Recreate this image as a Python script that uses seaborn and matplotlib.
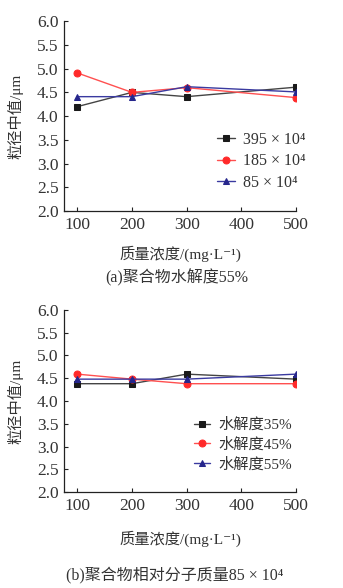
import numpy as np
import pandas as pd
import seaborn as sns
import matplotlib
matplotlib.use("Agg")
import matplotlib.pyplot as plt

sns.set_style("ticks")
plt.rcParams['font.family'] = ['Liberation Serif', 'Noto Sans CJK SC', 'DejaVu Sans']
plt.rcParams['axes.unicode_minus'] = False

# ---- data ----
conc = [100, 200, 300, 500]
labels_a = ['395 × 10⁴', '185 × 10⁴', '85 × 10⁴']
vals_a_395 = [4.20, 4.50, 4.41, 4.61]
vals_a_185 = [4.91, 4.50, 4.60, 4.39]
vals_a_85 = [4.41, 4.41, 4.62, 4.51]

labels_b = ['水解度35%', '水解度45%', '水解度55%']
vals_b_35 = [4.38, 4.38, 4.59, 4.48]
vals_b_45 = [4.59, 4.48, 4.38, 4.38]
vals_b_55 = [4.48, 4.48, 4.48, 4.59]

xticks = [100, 200, 300, 400, 500]
yticks = [2.0, 2.5, 3.0, 3.5, 4.0, 4.5, 5.0, 5.5, 6.0]

colors = ['#1a1a1a', '#ff2a2a', '#26268c']
line_colors = ['#444444', '#ff5050', '#3a3aa0']
markers = ['s', 'o', '^']


def make_df(labels, series):
    rows = []
    for lab, vals in zip(labels, series):
        for x, v in zip(conc, vals):
            rows.append({'x': x, 'y': v, 'g': lab})
    return pd.DataFrame(rows)


fig = plt.figure(figsize=(3.43, 5.88), dpi=100)
ax1 = fig.add_axes([0.187, 0.641, 0.676, 0.323])
ax2 = fig.add_axes([0.187, 0.163, 0.676, 0.310])


def draw(ax, labels, series, legend_anchor, legsize, xpad):
    df = make_df(labels, series)
    for lab, c, lc, m in zip(labels, colors, line_colors, markers):
        sub = df[df['g'] == lab]
        sns.lineplot(data=sub, x='x', y='y', ax=ax, color=lc, lw=1.0,
                     marker=m, markersize=5, markerfacecolor=c,
                     markeredgecolor=c, label=lab, legend=False)
    ax.set_xlim(76, 500)
    ax.set_ylim(2.0, 6.0)
    ax.set_xticks(xticks)
    ax.set_yticks(yticks)
    ax.set_yticklabels([f'{t:.1f}' for t in yticks])
    sns.despine(ax=ax)
    for s in ['left', 'bottom']:
        ax.spines[s].set_linewidth(0.9)
        ax.spines[s].set_color('#222222')
    ax.tick_params(direction='in', length=3, width=0.8, labelsize=12.5,
                   colors='#222222', labelcolor='#333333', pad=4)
    ax.set_xlabel('质量浓度/(mg·L⁻¹)', fontsize=11, color='#333333', labelpad=xpad)
    ax.set_ylabel('粒径中值/μm', fontsize=11, color='#333333', labelpad=10)
    h, l = ax.get_legend_handles_labels()
    ax.legend(h, l, loc='upper left', bbox_to_anchor=legend_anchor, frameon=False,
              fontsize=legsize, handlelength=1.1, handletextpad=0.5,
              labelspacing=0.35, labelcolor='#333333', borderpad=0)


draw(ax1, labels_a, [vals_a_395, vals_a_185, vals_a_85], (0.625, 0.46), 11.5, 9)
draw(ax2, labels_b, [vals_b_35, vals_b_45, vals_b_55], (0.525, 0.45), 11, 12.5)

fig.text(0.515, 1 - 278 / 588, '(a)聚合物水解度55%', ha='center', va='center',
         fontsize=11.5, color='#333333')
fig.text(0.508, 1 - 575 / 588, '(b)聚合物相对分子质量85 × 10⁴', ha='center',
         va='center', fontsize=11.5, color='#333333')

fig.savefig('out.png', dpi=100)
